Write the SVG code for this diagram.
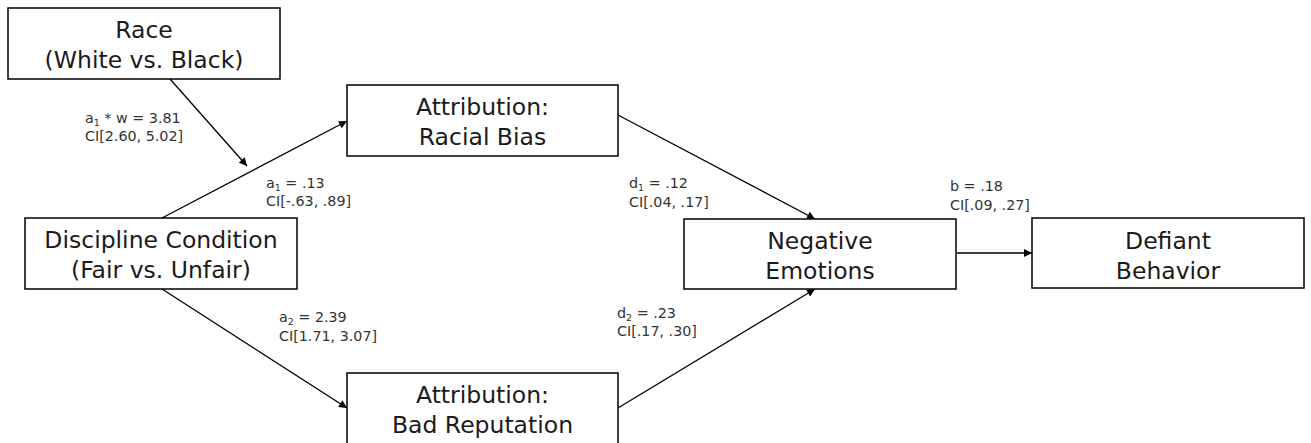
<svg xmlns="http://www.w3.org/2000/svg" width="1311" height="443" viewBox="0 0 1311 443">
<style>
.box{fill:#fff;stroke:#000;stroke-width:1.5}
.lbl{font-family:"DejaVu Sans",sans-serif;font-size:23.5px;fill:#1a1a1a;text-anchor:middle}
.st{font-family:"DejaVu Sans",sans-serif;font-size:14.3px;fill:#333}
.sub{font-size:9.5px}
.con{stroke:#000;stroke-width:1.3;fill:none;marker-end:url(#ah)}
</style>
<defs>
<marker id="ah" viewBox="0 0 10 10" refX="10" refY="5" markerWidth="9" markerHeight="8" markerUnits="userSpaceOnUse" orient="auto">
<path d="M0,0 L10,5 L0,10 z" fill="#000"/>
</marker>
</defs>
<rect width="1311" height="443" fill="#fff"/>
<g id="connectors">
<line class="con" x1="162" y1="218" x2="347" y2="121"/>
<line class="con" x1="170" y1="79" x2="247" y2="166"/>
<line class="con" x1="162" y1="289" x2="347" y2="408"/>
<line class="con" x1="618" y1="115" x2="815" y2="219"/>
<line class="con" x1="618" y1="408" x2="815" y2="289"/>
<line class="con" x1="957" y1="253" x2="1032" y2="253"/>
</g>
<g id="labels">
<text class="st" x="85" y="123">a<tspan class="sub" dy="3">1</tspan><tspan dy="-3"> * w = 3.81</tspan></text>
<text class="st" x="85" y="141">CI[2.60, 5.02]</text>
<text class="st" x="266" y="188">a<tspan class="sub" dy="3">1</tspan><tspan dy="-3"> = .13</tspan></text>
<text class="st" x="266" y="206">CI[-.63, .89]</text>
<text class="st" x="279" y="322">a<tspan class="sub" dy="3">2</tspan><tspan dy="-3"> = 2.39</tspan></text>
<text class="st" x="279" y="341">CI[1.71, 3.07]</text>
<text class="st" x="629" y="188">d<tspan class="sub" dy="3">1</tspan><tspan dy="-3"> = .12</tspan></text>
<text class="st" x="629" y="207">CI[.04, .17]</text>
<text class="st" x="617" y="318">d<tspan class="sub" dy="3">2</tspan><tspan dy="-3"> = .23</tspan></text>
<text class="st" x="617" y="336">CI[.17, .30]</text>
<text class="st" x="950" y="191">b = .18</text>
<text class="st" x="950" y="210">CI[.09, .27]</text>
</g>
<g id="race">
<rect class="box" x="8" y="8" width="272" height="71"/>
<text class="lbl" x="144" y="38">Race</text>
<text class="lbl" x="144" y="68">(White vs. Black)</text>
</g>
<g id="discipline">
<rect class="box" x="25" y="218" width="272" height="71"/>
<text class="lbl" x="161" y="248">Discipline Condition</text>
<text class="lbl" x="161" y="278">(Fair vs. Unfair)</text>
</g>
<g id="racial-bias">
<rect class="box" x="347" y="85" width="271" height="71"/>
<text class="lbl" x="482.5" y="115">Attribution:</text>
<text class="lbl" x="482.5" y="145">Racial Bias</text>
</g>
<g id="bad-reputation">
<rect class="box" x="347" y="373" width="271" height="72"/>
<text class="lbl" x="482.5" y="403">Attribution:</text>
<text class="lbl" x="482.5" y="433">Bad Reputation</text>
</g>
<g id="negative-emotions">
<rect class="box" x="684" y="219" width="272" height="70"/>
<text class="lbl" x="820" y="249">Negative</text>
<text class="lbl" x="820" y="279">Emotions</text>
</g>
<g id="defiant-behavior">
<rect class="box" x="1032" y="218" width="272" height="70"/>
<text class="lbl" x="1168" y="249">Defiant</text>
<text class="lbl" x="1168" y="279">Behavior</text>
</g>
</svg>
